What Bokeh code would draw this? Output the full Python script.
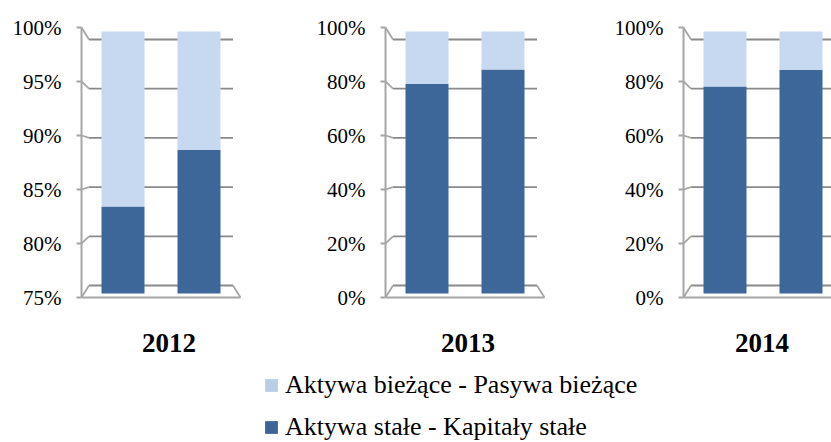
import numpy as np
from bokeh.plotting import figure
from bokeh.models import (ColumnDataSource, FixedTicker, CustomJSTickFormatter, Range1d,
                          Legend, LegendItem)
from bokeh.layouts import row, column
from bokeh.embed import file_html
from bokeh.resources import INLINE
from bokeh.core.properties import value

# ---------------- data ----------------
years = ["2012", "2013", "2014"]
bar_positions = [1, 2]
series_labels = ["Aktywa bieżące - Pasywa bieżące", "Aktywa stałe - Kapitały stałe"]

fixed_2012 = [83.3, 88.7]
current_2012 = [16.7, 11.3]
fixed_2013 = [80.0, 85.5]
current_2013 = [20.0, 14.5]
fixed_2014 = [79.0, 85.4]
current_2014 = [21.0, 14.6]

axis_min = [75, 0, 0]
axis_max = [100, 100, 100]
axis_step = [5, 20, 20]

# ---------------- style / layout ----------------
DARK = "#3D6699"
LIGHT = "#C6D9F1"
LEG_DARK = "#3C6496"
LEG_LIGHT = "#B9CDE5"
GRID = "#8A8A8A"
AXIS = "#A6A6A6"
FONT = "Liberation Serif"

FIG_H = 368
BAR_BOTTOM_PX = 293
BAR_SPAN_PX = 262
CAT_PX = 76
fig_widths = [308, 300, 223]
border_left = [81, 77, 75]
AXIS_TO_BAR1 = 41.5
K_FRONT = 270 / 262
K_BACK = 246 / 262
FRONT_HALF = 79.5 / 76
BACK_HALF = 72.0 / 76
BAR_W = 43 / 76
YEAR_PX = 342
year_dx = [8, 3, -1]


def make_panel(i, fixed, current):
    lo, hi, step = axis_min[i], axis_max[i], axis_step[i]
    dpp = (hi - lo) / BAR_SPAN_PX
    y0 = lo - (FIG_H - BAR_BOTTOM_PX) * dpp
    y1 = lo + BAR_BOTTOM_PX * dpp
    frame_w = fig_widths[i] - border_left[i]
    x0 = bar_positions[0] - AXIS_TO_BAR1 / CAT_PX
    x1 = x0 + frame_w / CAT_PX

    p = figure(width=fig_widths[i], height=FIG_H,
               x_range=Range1d(x0, x1), y_range=Range1d(y0, y1),
               x_axis_location=None, output_backend="svg", toolbar_location=None,
               min_border_left=border_left[i], min_border_right=0,
               min_border_top=0, min_border_bottom=0)
    p.outline_line_color = None
    p.grid.visible = False
    p.background_fill_color = "white"
    p.border_fill_color = "white"

    c = (lo + hi) / 2
    front = lambda v: c + (v - c) * K_FRONT
    back = lambda v: c + (v - c) * K_BACK
    ticks = list(range(lo, hi + 1, step))
    mid = sum(bar_positions) / len(bar_positions)
    fl, fr = mid - FRONT_HALF, mid + FRONT_HALF
    bl, br = mid - BACK_HALF, mid + BACK_HALF

    n = len(ticks)
    # back wall gridlines
    p.segment(x0=[bl] * n, y0=[back(v) for v in ticks], x1=[br] * n,
              y1=[back(v) for v in ticks], line_color=GRID, line_width=1.8)
    # side-wall connectors from the front axis
    p.segment(x0=[fl] * n, y0=[front(v) for v in ticks], x1=[bl] * n,
              y1=[back(v) for v in ticks], line_color=AXIS, line_width=1.8)
    # floor front and right edges
    p.segment(x0=[fl, br], y0=[front(lo), back(lo)], x1=[fr, fr],
              y1=[front(lo), front(lo)], line_color=AXIS, line_width=1.8)

    src = ColumnDataSource(dict(
        x=bar_positions, base=[lo] * len(fixed), fixed=fixed,
        top=[f + cu for f, cu in zip(fixed, current)]))
    p.vbar(x="x", bottom="base", top="fixed", width=BAR_W, source=src,
           fill_color=DARK, line_color=None)
    p.vbar(x="x", bottom="fixed", top="top", width=BAR_W, source=src,
           fill_color=LIGHT, line_color=None)

    p.text(x=[mid + year_dx[i] / CAT_PX], y=[lo + (BAR_BOTTOM_PX - YEAR_PX) * dpp],
           text=[years[i]], text_font=value(FONT), text_font_style="bold",
           text_font_size="27px", text_align="center", text_baseline="middle",
           text_color="black")

    ax = p.yaxis[0]
    ax.ticker = FixedTicker(ticks=[front(v) for v in ticks])
    ax.formatter = CustomJSTickFormatter(args=dict(c=c, k=K_FRONT),
                                         code="return Math.round(c + (tick - c) / k) + '%';")
    ax.bounds = (front(lo), front(hi))
    ax.axis_line_color = AXIS
    ax.axis_line_width = 2
    ax.major_tick_line_color = AXIS
    ax.major_tick_line_width = 2
    ax.major_tick_out = 5
    ax.major_tick_in = 0
    ax.minor_tick_out = 0
    ax.minor_tick_in = 0
    ax.major_label_text_font = FONT
    ax.major_label_text_font_size = "21px"
    ax.major_label_text_color = "black"
    ax.major_label_standoff = 15
    return p


p1 = make_panel(0, fixed_2012, current_2012)
p2 = make_panel(1, fixed_2013, current_2013)
p3 = make_panel(2, fixed_2014, current_2014)

# legend strip (proxy renderers carry only the swatch colours, no visible marks)
lf = figure(width=831, height=74, x_range=Range1d(0, 1), y_range=Range1d(0, 1),
            x_axis_location=None, y_axis_location=None, output_backend="svg",
            toolbar_location=None, min_border=0)
lf.outline_line_color = None
lf.grid.visible = False
proxy = ColumnDataSource(dict(x=np.full(1, np.nan), top=np.full(1, np.nan)))
r_light = lf.vbar(x="x", top="top", width=1, source=proxy,
                  fill_color=LEG_LIGHT, line_color=None)
r_dark = lf.vbar(x="x", top="top", width=1, source=proxy,
                 fill_color=LEG_DARK, line_color=None)
legend = Legend(items=[LegendItem(label=series_labels[0], renderers=[r_light]),
                       LegendItem(label=series_labels[1], renderers=[r_dark])],
                location=(263, 0), orientation="vertical", padding=0, margin=0,
                spacing=12, glyph_width=16, glyph_height=16, label_standoff=6,
                label_height=20, label_text_font=FONT, label_text_font_size="26px",
                label_text_color="black", border_line_color=None,
                background_fill_alpha=0)
lf.add_layout(legend)

layout = column(row(p1, p2, p3), lf)

open("out.html", "w").write(file_html(layout, INLINE))
